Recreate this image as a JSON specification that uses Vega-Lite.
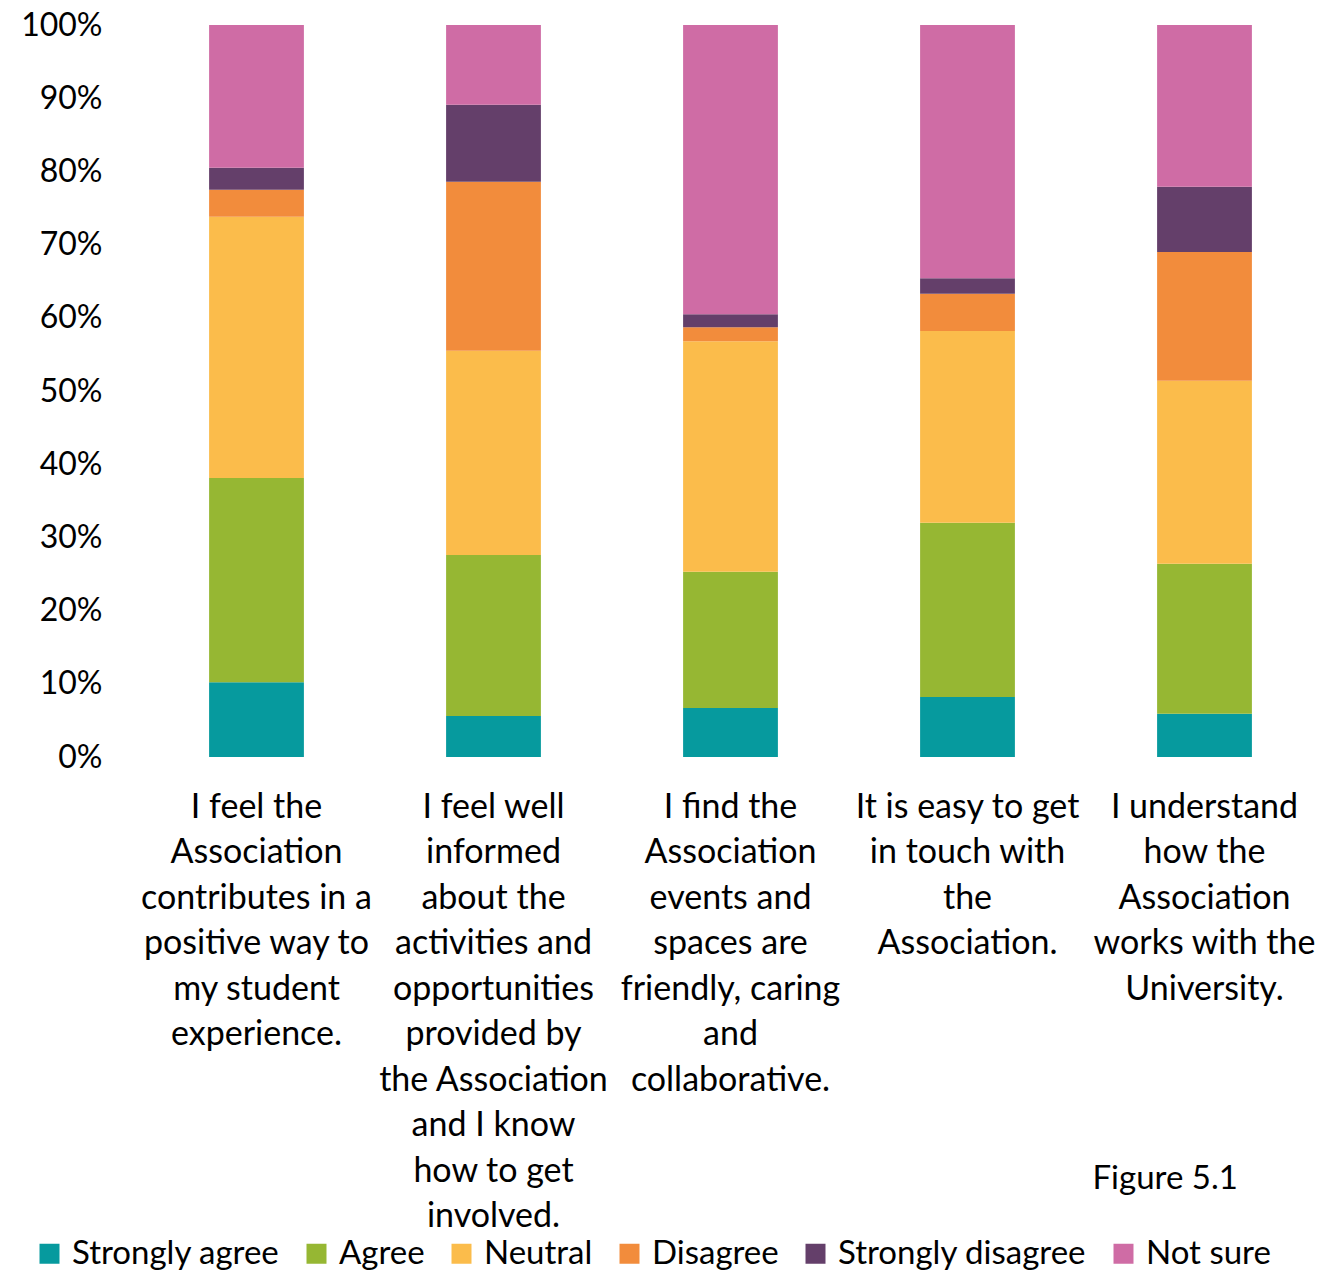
{
  "$schema": "https://vega.github.io/schema/vega-lite/v6.json",
  "width": 1185,
  "height": 732,
  "autosize": {"type": "none"},
  "padding": {"left": 138, "top": 25, "right": 0, "bottom": 515},
  "background": "white",
  "config": {
    "view": {"stroke": null},
    "font": "Lato",
    "axis": {"labelColor": "#000", "titleColor": "#000", "labelFont": "Lato", "titleFont": "Lato"},
    "legend": {"labelColor": "#000", "labelFont": "Lato"}
  },
  "data": {
    "values": [
      {"statement": "I feel the Association contributes in a positive way to my student experience.", "response": "Strongly agree", "pct": 10.2},
      {"statement": "I feel the Association contributes in a positive way to my student experience.", "response": "Agree", "pct": 27.9},
      {"statement": "I feel the Association contributes in a positive way to my student experience.", "response": "Neutral", "pct": 35.7},
      {"statement": "I feel the Association contributes in a positive way to my student experience.", "response": "Disagree", "pct": 3.7},
      {"statement": "I feel the Association contributes in a positive way to my student experience.", "response": "Strongly disagree", "pct": 3.0},
      {"statement": "I feel the Association contributes in a positive way to my student experience.", "response": "Not sure", "pct": 19.5},
      {"statement": "I feel well informed about the activities and opportunities provided by the Association and I know how to get involved.", "response": "Strongly agree", "pct": 5.6},
      {"statement": "I feel well informed about the activities and opportunities provided by the Association and I know how to get involved.", "response": "Agree", "pct": 22.0},
      {"statement": "I feel well informed about the activities and opportunities provided by the Association and I know how to get involved.", "response": "Neutral", "pct": 27.9},
      {"statement": "I feel well informed about the activities and opportunities provided by the Association and I know how to get involved.", "response": "Disagree", "pct": 23.1},
      {"statement": "I feel well informed about the activities and opportunities provided by the Association and I know how to get involved.", "response": "Strongly disagree", "pct": 10.5},
      {"statement": "I feel well informed about the activities and opportunities provided by the Association and I know how to get involved.", "response": "Not sure", "pct": 10.9},
      {"statement": "I find the Association events and spaces are friendly, caring and collaborative.", "response": "Strongly agree", "pct": 6.7},
      {"statement": "I find the Association events and spaces are friendly, caring and collaborative.", "response": "Agree", "pct": 18.6},
      {"statement": "I find the Association events and spaces are friendly, caring and collaborative.", "response": "Neutral", "pct": 31.5},
      {"statement": "I find the Association events and spaces are friendly, caring and collaborative.", "response": "Disagree", "pct": 1.9},
      {"statement": "I find the Association events and spaces are friendly, caring and collaborative.", "response": "Strongly disagree", "pct": 1.8},
      {"statement": "I find the Association events and spaces are friendly, caring and collaborative.", "response": "Not sure", "pct": 39.5},
      {"statement": "It is easy to get in touch with the Association.", "response": "Strongly agree", "pct": 8.2},
      {"statement": "It is easy to get in touch with the Association.", "response": "Agree", "pct": 23.8},
      {"statement": "It is easy to get in touch with the Association.", "response": "Neutral", "pct": 26.2},
      {"statement": "It is easy to get in touch with the Association.", "response": "Disagree", "pct": 5.1},
      {"statement": "It is easy to get in touch with the Association.", "response": "Strongly disagree", "pct": 2.1},
      {"statement": "It is easy to get in touch with the Association.", "response": "Not sure", "pct": 34.6},
      {"statement": "I understand how the Association works with the University.", "response": "Strongly agree", "pct": 5.9},
      {"statement": "I understand how the Association works with the University.", "response": "Agree", "pct": 20.5},
      {"statement": "I understand how the Association works with the University.", "response": "Neutral", "pct": 25.0},
      {"statement": "I understand how the Association works with the University.", "response": "Disagree", "pct": 17.6},
      {"statement": "I understand how the Association works with the University.", "response": "Strongly disagree", "pct": 8.9},
      {"statement": "I understand how the Association works with the University.", "response": "Not sure", "pct": 22.1}
    ]
  },
  "mark": {"type": "bar"},
  "encoding": {
    "x": {
      "field": "statement",
      "type": "nominal",
      "sort": null,
      "scale": {"paddingInner": 0.6, "paddingOuter": 0.3},
      "axis": {
        "title": "Figure 5.1",
        "titleFontSize": 33,
        "titleFontWeight": "normal",
        "titleAnchor": null,
        "titleAlign": "left",
        "titleBaseline": "middle",
        "titleX": 954,
        "titleY": 421,
        "labelAngle": 0,
        "labelFontSize": 34,
        "labelLineHeight": 45.5,
        "labelPadding": 33,
        "labelBaseline": "top",
        "labelLimit": 0,
        "labelOverlap": false,
        "ticks": false,
        "domain": false,
        "labelExpr": "{'I feel the Association contributes in a positive way to my student experience.': ['I feel the', 'Association', 'contributes in a', 'positive way to', 'my student', 'experience.'], 'I feel well informed about the activities and opportunities provided by the Association and I know how to get involved.': ['I feel well', 'informed', 'about the', 'activities and', 'opportunities', 'provided by', 'the Association', 'and I know', 'how to get', 'involved.'], 'I find the Association events and spaces are friendly, caring and collaborative.': ['I find the', 'Association', 'events and', 'spaces are', 'friendly, caring', 'and', 'collaborative.'], 'It is easy to get in touch with the Association.': ['It is easy to get', 'in touch with', 'the', 'Association.'], 'I understand how the Association works with the University.': ['I understand', 'how the', 'Association', 'works with the', 'University.']}[datum.label]"
      }
    },
    "y": {
      "field": "pct",
      "type": "quantitative",
      "aggregate": "sum",
      "stack": "zero",
      "scale": {"domain": [0, 100], "nice": false},
      "axis": {
        "title": null,
        "values": [0, 10, 20, 30, 40, 50, 60, 70, 80, 90, 100],
        "labelExpr": "datum.value + '%'",
        "labelFontSize": 32,
        "labelPadding": 36,
        "ticks": false,
        "domain": false,
        "grid": false
      }
    },
    "color": {
      "field": "response",
      "type": "nominal",
      "sort": ["Strongly agree", "Agree", "Neutral", "Disagree", "Strongly disagree", "Not sure"],
      "scale": {
        "domain": ["Strongly agree", "Agree", "Neutral", "Disagree", "Strongly disagree", "Not sure"],
        "range": ["#069a9e", "#96b733", "#fbbc4b", "#f28c3c", "#643f6a", "#cf6ca5"]
      },
      "legend": {
        "title": null,
        "orient": "none",
        "direction": "horizontal",
        "columns": 6,
        "legendX": -105,
        "legendY": 1212,
        "symbolType": "square",
        "symbolSize": 400,
        "symbolStrokeWidth": 0,
        "symbolOpacity": 1,
        "labelFontSize": 33,
        "labelOffset": 6,
        "columnPadding": 20,
        "labelLimit": 0
      }
    },
    "order": {"field": "statement", "type": "nominal"}
  }
}
